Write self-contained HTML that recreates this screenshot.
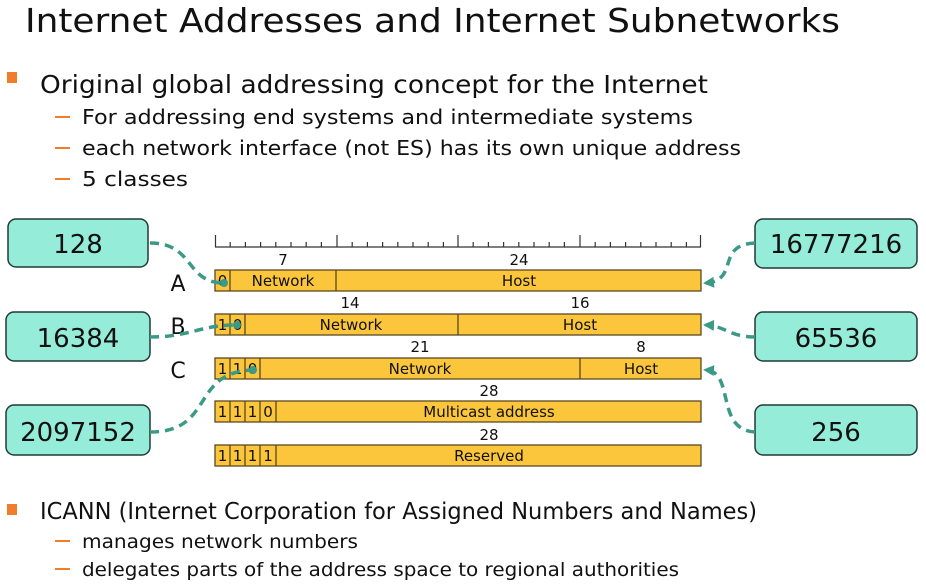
<!DOCTYPE html>
<html><head><meta charset="utf-8"><style>
html,body{margin:0;padding:0;background:#fff;width:926px;height:586px;overflow:hidden}
svg{display:block}
text{font-family:"DejaVu Sans","Liberation Sans",sans-serif;fill:#111}
</style></head><body>
<svg width="926" height="586" viewBox="0 0 926 586">
<defs>
<marker id="ar" markerWidth="11" markerHeight="11" refX="8" refY="5.5" orient="auto" markerUnits="userSpaceOnUse"><path d="M0,0 L11,5.5 L0,11 Z" fill="#3a9a85"/></marker>
</defs>
<text x="25" y="32" font-size="33" textLength="815" lengthAdjust="spacingAndGlyphs">Internet Addresses and Internet Subnetworks</text>
<rect x="7" y="72" width="10" height="11" fill="#f07c2c"/>
<text x="40" y="93" font-size="25" textLength="668" lengthAdjust="spacingAndGlyphs">Original global addressing concept for the Internet</text>
<g fill="#f07c2c"><rect x="55" y="116" width="15" height="2"/><rect x="55" y="147" width="15" height="2"/><rect x="55" y="178" width="15" height="2"/><rect x="55" y="540" width="15" height="2"/><rect x="55" y="568" width="15" height="2"/></g>
<text x="82" y="124" font-size="20" textLength="611" lengthAdjust="spacingAndGlyphs">For addressing end systems and intermediate systems</text>
<text x="82" y="155" font-size="20" textLength="659" lengthAdjust="spacingAndGlyphs">each network interface (not ES) has its own unique address</text>
<text x="82" y="186" font-size="20" textLength="106" lengthAdjust="spacingAndGlyphs">5 classes</text>
<rect x="7" y="504" width="10" height="11" fill="#f07c2c"/>
<text x="40" y="519" font-size="23" textLength="717" lengthAdjust="spacingAndGlyphs">ICANN (Internet Corporation for Assigned Numbers and Names)</text>
<text x="82" y="548" font-size="19" textLength="276" lengthAdjust="spacingAndGlyphs">manages network numbers</text>
<text x="82" y="576" font-size="19" textLength="597" lengthAdjust="spacingAndGlyphs">delegates parts of the address space to regional authorities</text>

<g stroke="#333" stroke-width="1.2">
<line x1="215" y1="247" x2="701" y2="247"/>
<line x1="215.5" y1="235" x2="215.5" y2="247"/>
<line x1="337" y1="235" x2="337" y2="247"/>
<line x1="458" y1="235" x2="458" y2="247"/>
<line x1="580" y1="235" x2="580" y2="247"/>
<line x1="700.5" y1="235" x2="700.5" y2="247"/>
<path d="M230.2,242V247M245.4,242V247M260.6,242V247M275.8,242V247M291,242V247M306.2,242V247M321.4,242V247M352.2,242V247M367.4,242V247M382.6,242V247M397.8,242V247M413,242V247M428.2,242V247M443.4,242V247M473.2,242V247M488.4,242V247M503.6,242V247M518.8,242V247M534,242V247M549.2,242V247M564.4,242V247M595.2,242V247M610.4,242V247M625.6,242V247M640.8,242V247M656,242V247M671.2,242V247M686.4,242V247"/>
</g>

<g font-size="15" text-anchor="middle">
<text x="283" y="265">7</text><text x="519" y="265">24</text>
<text x="350" y="308">14</text><text x="580" y="308">16</text>
<text x="420" y="352">21</text><text x="641" y="352">8</text>
<text x="489" y="396">28</text><text x="489" y="440">28</text>
</g>

<g fill="#fbc53c" stroke="#5a4a20" stroke-width="1.3">
<rect x="215" y="270" width="486" height="21"/>
<rect x="215" y="314" width="486" height="21"/>
<rect x="215" y="358" width="486" height="21"/>
<rect x="215" y="401" width="486" height="21"/>
<rect x="215" y="445" width="486" height="21"/>
</g>
<g stroke="#5a4a20" stroke-width="1.3">
<path d="M230,270V291M336,270V291"/>
<path d="M230,314V335M245,314V335M458,314V335"/>
<path d="M230,358V379M245,358V379M260,358V379M580,358V379"/>
<path d="M230,401V422M245,401V422M260,401V422M276,401V422"/>
<path d="M230,445V466M245,445V466M260,445V466M276,445V466"/>
</g>
<g font-size="15" text-anchor="middle">
<text x="222.5" y="286">0</text><text x="283" y="286">Network</text><text x="519" y="286">Host</text>
<text x="222.5" y="330">1</text><text x="237.5" y="330">0</text><text x="351" y="330">Network</text><text x="580" y="330">Host</text>
<text x="222.5" y="374">1</text><text x="237.5" y="374">1</text><text x="252.5" y="374">0</text><text x="420" y="374">Network</text><text x="641" y="374">Host</text>
<text x="222.5" y="417">1</text><text x="237.5" y="417">1</text><text x="252.5" y="417">1</text><text x="268" y="417">0</text><text x="489" y="417">Multicast address</text>
<text x="222.5" y="461">1</text><text x="237.5" y="461">1</text><text x="252.5" y="461">1</text><text x="268" y="461">1</text><text x="489" y="461">Reserved</text>
</g>
<g font-size="22" text-anchor="middle">
<text x="178" y="291">A</text><text x="178" y="334">B</text><text x="178" y="378">C</text>
</g>

<g fill="#94ecd9" stroke="#233a35" stroke-width="1.5">
<rect x="8" y="219" width="140" height="48" rx="8"/>
<rect x="6" y="312" width="144" height="49" rx="8"/>
<rect x="6" y="405" width="144" height="50" rx="8"/>
<rect x="755" y="219" width="162" height="49" rx="8"/>
<rect x="755" y="312" width="162" height="49" rx="8"/>
<rect x="755" y="405" width="162" height="50" rx="8"/>
</g>
<g font-size="26" text-anchor="middle">
<text x="78" y="253">128</text>
<text x="78" y="347">16384</text>
<text x="78" y="441">2097152</text>
<text x="836" y="253">16777216</text>
<text x="836" y="347">65536</text>
<text x="836" y="441">256</text>
</g>

<g fill="none" stroke="#3a9a85" stroke-width="3.5" stroke-dasharray="9 6">
<path d="M150,243 C195,243 185,283 224,283"/>
<path d="M150,337 C190,337 200,325 236,325"/>
<path d="M150,432 C215,432 190,372 253,370"/>
<path d="M755,243 C715,245 740,280 706,283" marker-end="url(#ar)"/>
<path d="M755,337 C730,337 725,326 706,325" marker-end="url(#ar)"/>
<path d="M755,432 C715,430 735,372 706,370" marker-end="url(#ar)"/>
</g>
<g fill="#3a9a85"><circle cx="224" cy="283" r="4"/><circle cx="237" cy="325" r="4"/><circle cx="253" cy="370" r="4"/></g>
</svg>
</body></html>
